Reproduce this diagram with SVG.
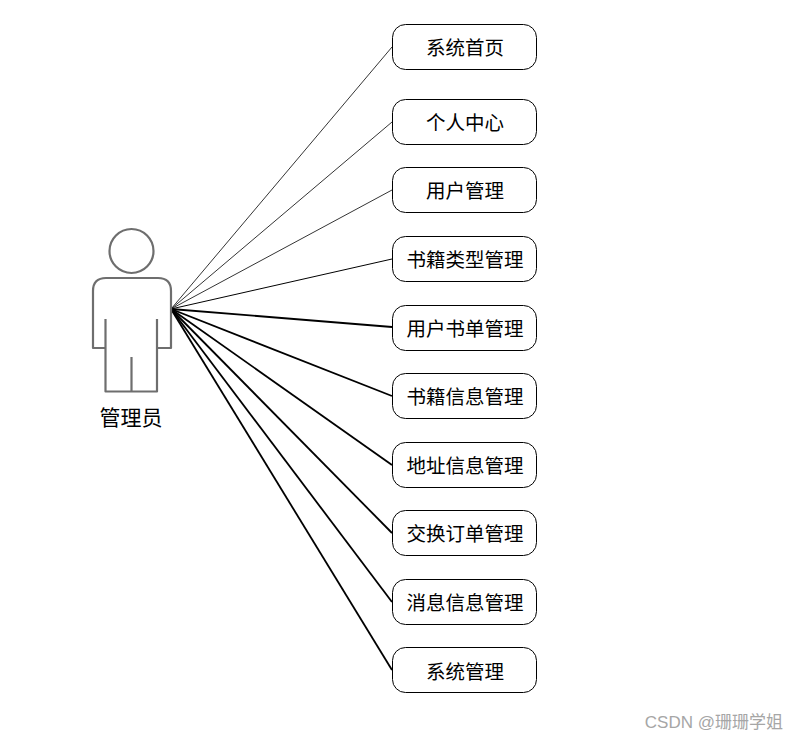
<svg xmlns="http://www.w3.org/2000/svg" width="798" height="740" viewBox="0 0 798 740">
<style>
.n rect{fill:#fff;stroke:#000;stroke-width:1}
.t{font-family:"Noto Sans CJK SC","Noto Sans CJK JP",sans-serif;font-size:19.500px;fill:#000;text-anchor:middle}
.c line{stroke:#000}
.a{fill:none;stroke:#6e6e6e;stroke-width:2.2;stroke-linejoin:round}
</style>
<rect width="798" height="740" fill="#fff"/>
<g id="connectors" class="c">
<line x1="171" y1="309" x2="392" y2="47" stroke-width="0.8"/>
<line x1="171" y1="309" x2="392" y2="122" stroke-width="0.8"/>
<line x1="171" y1="309" x2="392" y2="190" stroke-width="0.8"/>
<line x1="171" y1="309" x2="392" y2="259" stroke-width="1"/>
<line x1="171" y1="309" x2="392" y2="327" stroke-width="1.8"/>
<line x1="171" y1="309" x2="392" y2="396" stroke-width="1.8"/>
<line x1="171" y1="309" x2="392" y2="465" stroke-width="1.8"/>
<line x1="171" y1="309" x2="392" y2="533" stroke-width="1.8"/>
<line x1="171" y1="309" x2="392" y2="602" stroke-width="1.8"/>
<line x1="171" y1="309" x2="392" y2="670" stroke-width="1.8"/>
</g>
<g id="actor">
<circle class="a" cx="131.500" cy="251" r="22"/>
<path class="a" d="M106 348H93V291Q93 278 106 278H158Q171 278 171 291V348H157"/>
<path class="a" d="M105.500 319V391.500H157V319M131.500 357V391.500"/>
<text class="t" x="131" y="425" style="font-size:21px">管理员</text>
</g>
<g id="n1" class="n"><rect x="392.500" y="24.500" width="144" height="45" rx="13"/><text class="t" x="465" y="54.500">系统首页</text></g>
<g id="n2" class="n"><rect x="392.500" y="99.500" width="144" height="45" rx="13"/><text class="t" x="465" y="129.500">个人中心</text></g>
<g id="n3" class="n"><rect x="392.500" y="167.500" width="144" height="45" rx="13"/><text class="t" x="465" y="197.500">用户管理</text></g>
<g id="n4" class="n"><rect x="392.500" y="236.500" width="144" height="45" rx="13"/><text class="t" x="465" y="266.500">书籍类型管理</text></g>
<g id="n5" class="n"><rect x="392.500" y="305.500" width="144" height="45" rx="13"/><text class="t" x="465" y="335.500">用户书单管理</text></g>
<g id="n6" class="n"><rect x="392.500" y="373.500" width="144" height="45" rx="13"/><text class="t" x="465" y="403.500">书籍信息管理</text></g>
<g id="n7" class="n"><rect x="392.500" y="442.500" width="144" height="45" rx="13"/><text class="t" x="465" y="472.500">地址信息管理</text></g>
<g id="n8" class="n"><rect x="392.500" y="510.500" width="144" height="45" rx="13"/><text class="t" x="465" y="540.500">交换订单管理</text></g>
<g id="n9" class="n"><rect x="392.500" y="579.500" width="144" height="45" rx="13"/><text class="t" x="465" y="609.500">消息信息管理</text></g>
<g id="n10" class="n"><rect x="392.500" y="647.500" width="144" height="45" rx="13"/><text class="t" x="465" y="678.500">系统管理</text></g>
<text x="783" y="728" text-anchor="end" font-family="'Liberation Sans','Noto Sans CJK SC',sans-serif" font-size="17" fill="#a6a6a6">CSDN @珊珊学姐</text>
</svg>
